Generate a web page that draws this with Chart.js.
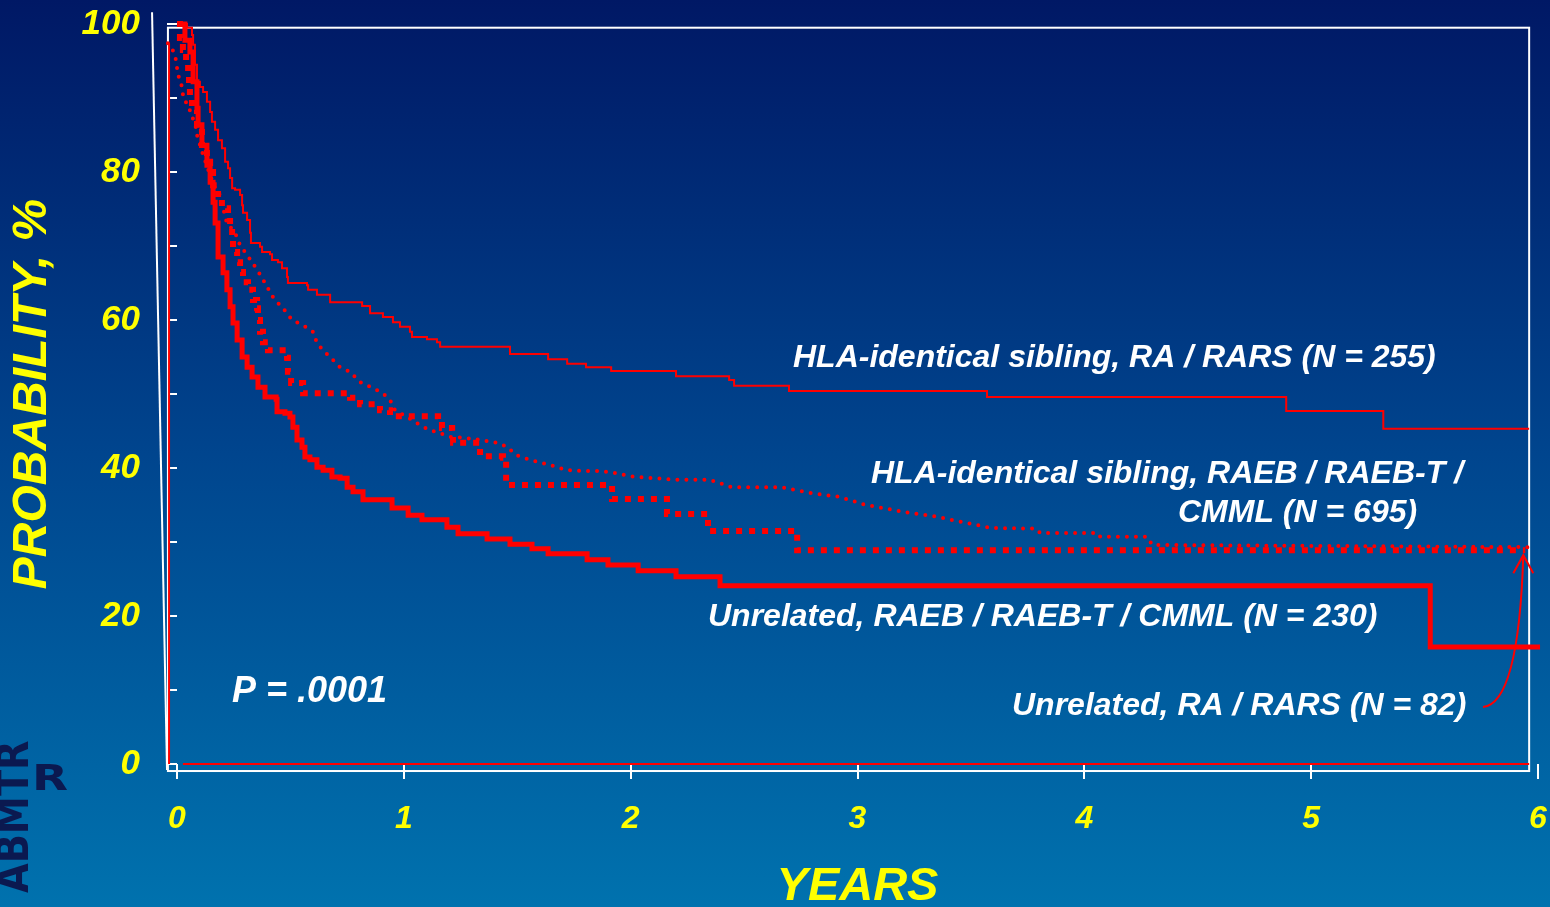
<!DOCTYPE html>
<html>
<head>
<meta charset="utf-8">
<script src="https://cdn.jsdelivr.net/npm/chart.js@4.4.1/dist/chart.umd.min.js"></script>
<style>
  html, body { margin: 0; padding: 0; overflow: hidden; background: #00306f; }
  #wrap { width: 1550px; height: 907px; position: relative; }
  canvas { display: block; }
</style>
</head>
<body>
<div id="wrap"><canvas id="km" width="1550" height="907"></canvas></div>
<script>
// Axis labels and titles
const xTickLabels = ['0', '1', '2', '3', '4', '5', '6'];
const yTickLabels = ['0', '20', '40', '60', '80', '100'];
const xTitle = 'YEARS';
const yTitle = 'PROBABILITY, %';
const pValueText = 'P = .0001';

const seriesNames = [
  'HLA-identical sibling, RA / RARS (N = 255)',
  'HLA-identical sibling, RAEB / RAEB-T / CMML (N = 695)',
  'Unrelated, RAEB / RAEB-T / CMML (N = 230)',
  'Unrelated, RA / RARS (N = 82)'
];

// HLA-identical sibling, RA / RARS: event times (years) and survival (%)
const sibRaTimes = [0, 0.044, 0.066, 0.071, 0.079, 0.088, 0.101, 0.115, 0.132, 0.146, 0.154, 0.168, 0.181, 0.198, 0.212,
  0.225, 0.234, 0.243, 0.256, 0.278, 0.287, 0.291, 0.309, 0.322, 0.326, 0.366, 0.375, 0.410, 0.419, 0.445,
  0.463, 0.485, 0.489, 0.573, 0.578, 0.617, 0.675, 0.816, 0.851, 0.908, 0.952, 0.983, 1.027, 1.036, 1.102,
  1.146, 1.160, 1.468, 1.636, 1.720, 1.803, 1.914, 2.200, 2.434, 2.456, 2.698, 3.571, 4.890, 5.318, 5.961];
const sibRaSurv = [100, 99.5, 98.5, 97.2, 94.5, 92.2, 91.5, 90.8, 89.5, 88.1, 86.8, 85.7, 84.3, 83.2, 81.4,
  80.5, 79.2, 77.8, 77.6, 76.9, 75.5, 74.5, 73.5, 71.8, 70.4, 69.9, 69.2, 68.9, 68.1, 67.8,
  67.0, 65.8, 65.0, 64.7, 64.1, 63.4, 62.4, 61.9, 60.9, 60.4, 59.7, 59.1, 58.4, 57.7, 57.4,
  57.0, 56.4, 55.4, 54.7, 54.1, 53.6, 53.1, 52.4, 51.9, 51.1, 50.4, 49.6, 47.7, 45.3, 45.3];

// HLA-identical sibling, RAEB / RAEB-T / CMML
const sibRaebTimes = [-0.040, -0.022, -0.013, -0.004, 0.000, 0.004, 0.013, 0.022, 0.026, 0.031, 0.049, 0.066, 0.079, 0.088, 0.115,
  0.141, 0.168, 0.185, 0.194, 0.220, 0.256, 0.278, 0.309, 0.331, 0.353, 0.375, 0.397, 0.423, 0.445, 0.467,
  0.485, 0.507, 0.556, 0.600, 0.617, 0.644, 0.675, 0.719, 0.763, 0.807, 0.864, 0.908, 0.939, 0.961, 1.014,
  1.071, 1.116, 1.160, 1.204, 1.261, 1.336, 1.411, 1.459, 1.490, 1.556, 1.645, 1.720, 1.790, 1.865, 1.940,
  2.015, 2.213, 2.350, 2.447, 2.663, 2.800, 2.919, 3.038, 3.197, 3.355, 3.413, 3.589, 3.787, 3.805, 4.061,
  4.070, 4.277, 4.299, 5.966];
const sibRaebSurv = [97.4, 96.8, 95.9, 95.1, 94.1, 93.2, 92.4, 91.5, 90.5, 89.7, 89.1, 87.4, 86.8, 85.0, 82.3,
  80.0, 77.8, 77.2, 76.2, 73.1, 71.8, 70.1, 68.8, 67.8, 66.8, 65.7, 64.5, 63.1, 62.3, 61.6,
  60.9, 60.0, 59.3, 58.4, 56.9, 55.9, 55.0, 53.6, 53.0, 51.6, 50.8, 50.1, 49.2, 47.8, 46.9,
  45.8, 45.1, 44.7, 44.2, 44.1, 43.8, 43.4, 42.8, 41.8, 41.1, 40.4, 39.7, 39.6, 39.6, 39.3,
  38.8, 38.4, 38.4, 37.4, 37.4, 36.6, 36.1, 35.0, 34.1, 33.4, 33.0, 31.9, 31.8, 31.2, 31.2,
  30.7, 30.7, 29.6, 29.3];

// Unrelated, RAEB / RAEB-T / CMML
const unrelRaebTimes = [0, 0.035, 0.057, 0.071, 0.088, 0.093, 0.110, 0.132, 0.146, 0.159, 0.168, 0.181, 0.203, 0.220, 0.234,
  0.247, 0.265, 0.287, 0.309, 0.331, 0.357, 0.388, 0.437, 0.441, 0.476, 0.498, 0.511, 0.529, 0.551, 0.564,
  0.586, 0.617, 0.644, 0.683, 0.719, 0.750, 0.776, 0.820, 0.948, 1.019, 1.080, 1.190, 1.239, 1.367, 1.468,
  1.565, 1.636, 1.808, 1.900, 2.033, 2.200, 2.394, 5.525, 6.009];
const unrelRaebSurv = [100, 97.8, 96.2, 92.2, 88.6, 86.4, 83.6, 80.9, 78.6, 75.9, 73.1, 68.5, 66.4, 64.1, 61.8,
  59.6, 57.3, 55.0, 53.6, 52.3, 50.9, 49.6, 49.3, 47.6, 47.4, 46.9, 45.5, 43.8, 42.8, 41.5,
  41.1, 40.1, 39.7, 38.8, 38.6, 37.4, 36.8, 35.7, 34.6, 33.6, 33.0, 32.0, 31.1, 30.4, 29.7,
  29.1, 28.4, 27.6, 26.9, 26.1, 25.3, 24.1, 15.8, 15.8];

// Unrelated, RA / RARS
const unrelRaTimes = [0, 0.013, 0.026, 0.040, 0.049, 0.053, 0.057, 0.066, 0.088, 0.110, 0.132, 0.146, 0.159, 0.181, 0.198,
  0.225, 0.234, 0.243, 0.247, 0.265, 0.278, 0.291, 0.313, 0.335, 0.353, 0.357, 0.366, 0.379, 0.401, 0.485,
  0.489, 0.503, 0.556, 0.763, 0.807, 0.895, 0.939, 1.151, 1.168, 1.213, 1.217, 1.336, 1.437, 1.451, 1.918,
  2.160, 2.341, 2.734, 5.944];
const unrelRaSurv = [100, 98.1, 96.5, 95.1, 93.5, 92.0, 90.1, 88.4, 86.4, 83.2, 81.4, 80.0, 78.2, 76.6, 75.1,
  73.8, 72.4, 70.8, 69.2, 67.8, 66.5, 65.1, 64.1, 62.7, 61.6, 60.0, 58.4, 57.0, 55.9, 54.9,
  53.0, 51.5, 50.1, 49.5, 48.6, 47.8, 47.0, 46.6, 45.4, 44.7, 43.4, 41.6, 41.4, 37.7, 35.8,
  33.8, 31.5, 28.9, 28.9];

// Red axis rules drawn with the curves
const leftRuleX = [-0.035, -0.035];
const leftRuleY = [97.4, 0];
const baseRuleX = [0.026, 5.961];
const baseRuleY = [0, 0];

const FAMILY = '"Liberation Sans", Arial, Helvetica, sans-serif';
const YELLOW = '#ffff00';
const RED = '#ff0000';

const pts = (xs, ys) => xs.map((x, i) => ({ x, y: ys[i] }));
const lineBase = { borderColor: RED, pointRadius: 0, pointHoverRadius: 0, fill: false, clip: false, tension: 0 };

// Slide-style gradient background
const backdrop = {
  id: 'backdrop',
  beforeDraw(chart) {
    const { ctx, width, height } = chart;
    const g = ctx.createLinearGradient(0, 0, 0, height);
    g.addColorStop(0, '#001865');
    g.addColorStop(0.5, '#00458e');
    g.addColorStop(1, '#0072ae');
    ctx.save();
    ctx.fillStyle = g;
    ctx.fillRect(0, 0, width, height);
    ctx.restore();
  }
};

// White plot frame and the left axis rule
const frame = {
  id: 'frame',
  beforeDatasetsDraw(chart) {
    const { ctx } = chart;
    const sx = chart.scales.x, sy = chart.scales.y;
    const box = { left: -0.04, right: 5.961, top: 99.5, bottom: -0.95 };
    const l = sx.getPixelForValue(box.left), r = sx.getPixelForValue(box.right);
    const t = sy.getPixelForValue(box.top), b = sy.getPixelForValue(box.bottom);
    ctx.save();
    ctx.strokeStyle = '#ffffff';
    ctx.lineWidth = 2;
    ctx.strokeRect(l, t, r - l, b - t);
    ctx.beginPath();
    ctx.moveTo(sx.getPixelForValue(-0.110), sy.getPixelForValue(101.6));
    ctx.lineTo(sx.getPixelForValue(-0.044), sy.getPixelForValue(-0.8));
    ctx.stroke();
    ctx.restore();
  }
};

// Curve labels, p-value, pointer arrow and logo
const notes = {
  id: 'notes',
  afterDraw(chart) {
    const { ctx } = chart;
    const sx = chart.scales.x, sy = chart.scales.y;
    ctx.save();
    ctx.fillStyle = '#ffffff';
    ctx.textAlign = 'left';
    ctx.textBaseline = 'middle';
    ctx.font = 'italic bold 32px ' + FAMILY;
    ctx.fillText(seriesNames[0], 793, 358);
    ctx.fillText('HLA-identical sibling, RAEB / RAEB-T /', 871, 474);
    ctx.fillText('CMML (N = 695)', 1178, 513);
    ctx.fillText(seriesNames[2], 708, 617);
    ctx.fillText(seriesNames[3], 1012, 706);
    ctx.font = 'italic bold 36px ' + FAMILY;
    ctx.fillText(pValueText, 232, 692);

    // arrow from the last label to the end of its curve
    const tipX = sx.getPixelForValue(unrelRaTimes[unrelRaTimes.length - 1]) - 2;
    const tipY = sy.getPixelForValue(unrelRaSurv[unrelRaSurv.length - 1]) + 5;
    ctx.strokeStyle = RED;
    ctx.lineWidth = 2;
    ctx.beginPath();
    ctx.moveTo(1483, 707);
    ctx.bezierCurveTo(1505, 705, 1520, 660, tipX, tipY);
    ctx.stroke();
    ctx.beginPath();
    ctx.moveTo(tipX - 10, tipY + 18);
    ctx.lineTo(tipX, tipY);
    ctx.lineTo(tipX + 10, tipY + 18);
    ctx.stroke();

    // ABMTR mark
    ctx.fillStyle = '#0b1950';
    ctx.font = 'bold 44px "DejaVu Sans", ' + FAMILY;
    ctx.translate(17, 893);
    ctx.rotate(-Math.PI / 2);
    ctx.scale(0.87, 1);
    ctx.fillText('ABMTR', 0, 0);
    ctx.setTransform(1, 0, 0, 1, 0, 0);
    ctx.font = 'bold 36px "DejaVu Sans", ' + FAMILY;
    ctx.translate(32, 781);
    ctx.scale(1.3, 1);
    ctx.fillText('R', 0, 0);
    ctx.setTransform(1, 0, 0, 1, 0, 0);
    ctx.restore();
  }
};

const tickFont = (size) => ({ family: FAMILY, size, style: 'italic', weight: 'bold' });

new Chart(document.getElementById('km'), {
  type: 'line',
  data: {
    datasets: [
      { ...lineBase, label: seriesNames[0], data: pts(sibRaTimes, sibRaSurv), borderWidth: 2, stepped: true },
      { ...lineBase, label: seriesNames[1], data: pts(sibRaebTimes, sibRaebSurv), borderWidth: 4,
        borderDash: [0, 9], borderCapStyle: 'round' },
      { ...lineBase, label: seriesNames[2], data: pts(unrelRaebTimes, unrelRaebSurv), borderWidth: 5, stepped: true },
      { ...lineBase, label: seriesNames[3], data: pts(unrelRaTimes, unrelRaSurv), borderWidth: 6,
        borderDash: [6, 7], borderCapStyle: 'butt', stepped: true },
      { ...lineBase, label: 'left rule', data: pts(leftRuleX, leftRuleY), borderWidth: 2 },
      { ...lineBase, label: 'base rule', data: pts(baseRuleX, baseRuleY), borderWidth: 2 }
    ]
  },
  options: {
    responsive: false,
    animation: false,
    devicePixelRatio: 1,
    events: [],
    layout: { padding: { top: 24, right: 12, left: 0, bottom: 0 } },
    plugins: { legend: { display: false }, tooltip: { enabled: false } },
    scales: {
      x: {
        type: 'linear',
        position: 'bottom',
        afterDataLimits(s) { s.min = 0; s.max = 6; },
        afterFit(s) { s.height = 143; s.paddingLeft = 0; s.paddingRight = 0; },
        ticks: {
          stepSize: 1, autoSkip: false, maxRotation: 0, padding: 21, color: YELLOW, font: tickFont(32),
          callback: (v) => (xTickLabels[v] !== undefined ? xTickLabels[v] : '')
        },
        grid: { drawOnChartArea: false, drawTicks: true, tickLength: 15, color: '#ffffff', lineWidth: 2 },
        border: { display: false },
        title: {
          display: true, text: xTitle, color: YELLOW, padding: 0,
          font: { family: FAMILY, size: 47, style: 'italic', weight: 'bold', lineHeight: 0.87 }
        }
      },
      y: {
        min: 0,
        max: 100,
        afterFit(s) { s.width = 177; s.paddingTop = 0; s.paddingBottom = 0; },
        ticks: {
          stepSize: 10, padding: 27, color: YELLOW, font: tickFont(35),
          callback: (v) => (yTickLabels.includes(String(v)) ? String(v) : '')
        },
        grid: { drawOnChartArea: false, drawTicks: true, tickLength: 10, color: '#ffffff', lineWidth: 2 },
        border: { display: false },
        title: {
          display: true, text: yTitle, color: YELLOW, padding: { top: 9, bottom: 0 },
          font: { family: FAMILY, size: 48, style: 'italic', weight: 'bold', lineHeight: 1 }
        }
      }
    }
  },
  plugins: [backdrop, frame, notes]
});
</script>
</body>
</html>
